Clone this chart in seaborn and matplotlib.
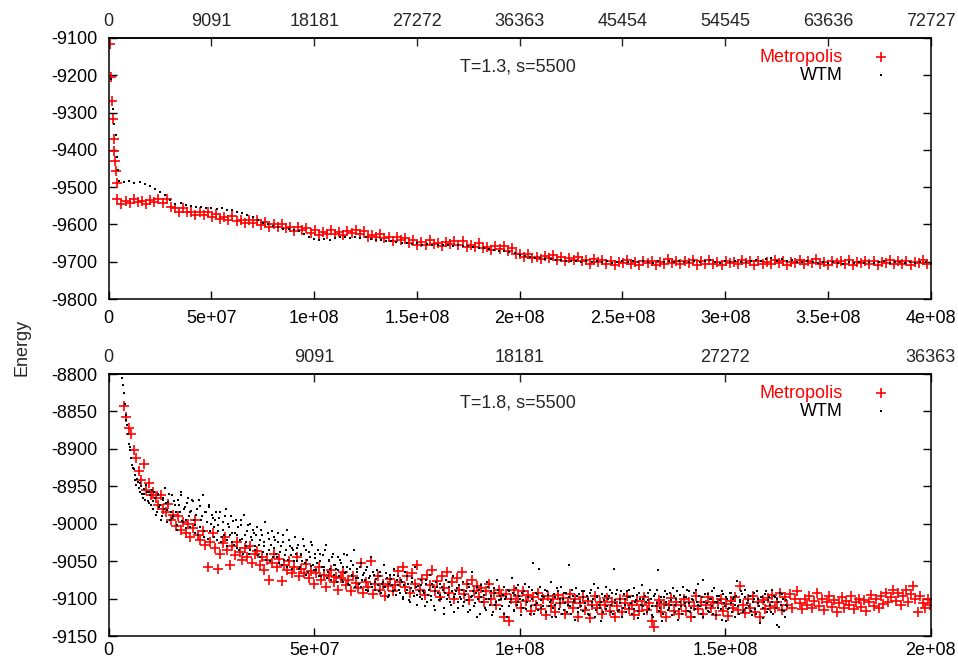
import matplotlib
matplotlib.use("Agg")
import matplotlib.pyplot as plt
import numpy as np
import pandas as pd
import seaborn as sns

# ── Data ──────────────────────────────────────────────────────────────────────
# top panel: T=1.3, s=5500
TOP_METRO_EARLY_X = [0.7e6, 1.0e6, 1.5e6, 2.0e6, 2.4e6, 2.8e6, 3.1e6, 3.4e6, 3.8e6]
TOP_METRO_EARLY_Y = [-9115, -9205, -9268, -9318, -9370, -9403, -9430, -9458, -9488]
TOP_METRO_X0, TOP_METRO_STEP = 4.2e6, 2.0e6
TOP_METRO_Y = [
    -9533, -9544, -9536, -9542, -9531, -9541, -9537, -9545, -9534, -9540, -9532, -9543, -9533,
    -9554, -9556, -9566, -9557, -9568, -9566, -9575, -9566, -9574, -9567, -9580, -9572,
    -9586, -9580, -9587, -9578, -9590, -9588, -9597, -9588, -9596, -9589, -9602, -9594,
    -9606, -9600, -9608, -9599, -9610, -9608, -9618, -9608, -9616, -9610, -9622, -9614,
    -9628, -9620, -9626, -9615, -9625, -9621, -9629, -9618, -9624, -9616, -9627, -9617,
    -9634, -9628, -9635, -9626, -9637, -9635, -9645, -9635, -9643, -9636, -9649, -9641,
    -9656, -9648, -9654, -9643, -9653, -9649, -9657, -9646, -9652, -9644, -9655, -9645,
    -9661, -9654, -9661, -9651, -9663, -9660, -9669, -9659, -9666, -9659, -9671, -9663,
    -9680, -9678, -9688, -9678, -9689, -9687, -9694, -9684, -9691, -9683, -9696, -9688,
    -9698, -9691, -9696, -9688, -9699, -9696, -9707, -9694, -9701,
    -9696, -9707, -9697, -9708, -9700, -9704, -9695, -9706, -9700, -9709, -9698, -9704,
    -9697, -9708, -9701, -9705, -9694, -9703, -9699, -9707, -9698, -9704, -9696, -9709,
    -9699, -9705, -9695, -9706, -9701, -9708, -9697, -9703, -9700, -9707, -9696, -9704,
    -9698, -9709, -9697, -9705, -9700, -9706, -9695, -9704, -9699, -9708, -9701, -9703,
    -9696, -9707, -9698, -9704, -9694, -9706, -9700, -9709, -9697, -9703, -9699, -9705,
    -9695, -9708, -9701, -9704, -9697, -9706, -9698, -9709, -9700, -9703, -9696, -9707,
    -9699, -9705, -9697, -9708, -9700, -9704, -9696, -9706,
]
TOP_WTM_EARLY_X = [1.2e6, 2.0e6, 2.7e6, 3.4e6, 3.9e6, 4.3e6]
TOP_WTM_EARLY_Y = [-9210, -9290, -9330, -9360, -9420, -9455]
TOP_WTM_X0, TOP_WTM_STEP = 5.0e6, 2.5e6
TOP_WTM_Y = [
    -9483, -9486, -9484, -9489, -9487, -9492, -9498, -9505, -9512, -9522,
    -9535, -9545, -9543, -9548, -9551, -9554, -9553, -9557, -9555, -9559,
    -9556, -9560, -9562, -9566, -9570, -9575, -9581, -9588, -9595, -9600,
    -9604, -9608, -9611, -9613, -9615, -9618, -9625, -9633, -9639, -9641,
    -9639, -9642, -9637, -9635, -9633, -9636, -9634, -9637, -9635, -9639,
    -9641, -9643, -9645, -9644, -9647, -9649, -9650, -9652, -9651, -9654,
    -9653, -9655, -9654, -9656, -9655, -9657, -9656, -9658, -9659, -9661,
    -9662, -9664, -9666, -9668, -9670, -9672, -9674, -9677, -9681, -9684,
    -9687, -9689, -9690, -9692, -9693, -9695, -9696, -9697, -9699, -9698,
    -9701,
    -9699, -9702, -9698, -9701, -9697, -9703, -9700, -9698, -9702, -9699,
    -9701, -9697, -9700, -9703, -9698, -9701, -9699, -9702, -9697, -9700,
    -9702, -9698, -9701, -9699, -9696, -9700, -9703, -9698, -9701, -9697,
    -9700, -9702, -9698, -9695, -9699, -9694, -9691, -9697, -9693, -9699,
    -9696, -9700, -9702, -9699, -9701, -9703, -9700, -9704, -9701, -9703,
    -9705, -9702, -9704, -9700, -9703, -9701, -9704, -9702, -9699, -9703,
    -9700, -9702, -9704, -9701, -9703, -9700, -9702, -9704,
]

# bottom panel: T=1.8, s=5500
BOT_METRO_X0, BOT_METRO_STEP = 3.7e6, 0.6e6
BOT_METRO_Y = [
    -8843, -8858, -8872, -8880, -8901, -8912, -8930, -8942, -8920, -8955,
    -8946, -8962, -8958, -8966, -8975, -8961, -8980, -8985, -8974, -8995,
    -8988, -9003, -8990, -9008, -8998, -9012, -9001, -9018, -9006, -8995,
    -9015, -9022, -9010, -9028, -9058, -9025, -9013, -9032, -9060, -9040,
    -9026, -9018, -9035, -9055, -9030, -9042, -9025, -9038, -9048, -9033,
    -9045, -9030, -9052, -9041, -9036, -9055, -9044, -9062, -9048, -9075,
    -9052, -9040, -9058, -9047, -9076, -9055, -9062, -9050, -9066, -9058,
    -9045, -9070, -9060, -9066, -9054, -9072, -9063, -9080, -9066, -9058,
    -9075, -9068, -9084, -9070, -9062, -9078, -9071, -9088, -9073, -9064,
    -9082, -9075, -9090, -9070, -9079, -9086, -9052, -9092, -9078, -9084,
    -9050, -9094, -9081, -9070, -9088, -9080, -9096, -9083, -9074, -9090,
    -9082, -9063, -9078, -9058, -9085, -9070, -9092, -9066, -9080, -9055,
    -9088, -9074, -9095, -9068, -9082, -9062, -9090, -9076, -9098, -9070,
    -9086, -9064, -9092, -9078, -9100, -9072, -9088, -9065, -9094, -9080,
    -9102, -9075, -9090, -9083, -9098, -9086, -9105, -9090, -9080, -9100,
    -9092, -9108, -9088, -9097, -9125, -9094, -9130, -9100, -9088, -9105,
    -9096, -9112, -9090, -9103, -9095, -9116, -9098, -9108, -9092, -9114,
    -9101, -9122, -9097, -9110, -9100, -9118, -9095, -9106, -9099, -9121,
    -9104, -9094, -9112, -9101, -9124, -9106, -9098, -9115, -9103, -9126,
    -9109, -9097, -9113, -9104, -9120, -9108, -9099, -9116, -9105, -9125,
    -9110, -9101, -9118, -9106, -9096, -9114, -9108, -9122, -9103, -9117,
    -9109, -9098, -9115, -9106, -9130, -9138, -9110, -9102, -9118, -9107,
    -9124, -9109, -9099, -9116, -9105, -9121, -9108, -9100, -9117, -9104,
    -9125, -9110, -9096, -9114, -9105, -9120, -9108, -9098, -9113, -9104,
    -9122, -9106, -9100, -9116, -9107, -9123, -9103, -9112, -9098, -9115,
    -9083, -9108, -9119, -9101, -9112, -9096, -9118, -9105, -9125, -9102,
    -9114, -9099, -9110, -9095, -9112, -9104, -9092, -9115, -9098, -9108,
    -9094, -9112, -9101, -9090, -9106, -9114, -9100, -9109, -9096, -9112,
    -9103, -9093, -9110, -9100, -9115, -9104, -9096, -9111, -9102, -9118,
    -9106, -9098, -9112, -9103, -9109, -9097, -9114, -9105, -9100, -9111,
    -9102, -9116, -9104, -9095, -9110, -9101, -9113, -9096, -9107, -9092,
    -9104, -9098, -9088, -9103, -9093, -9108, -9097, -9089, -9105, -9094,
    -9083, -9100, -9118, -9096, -9106, -9112, -9100, -9109,
]
# WTM was sampled twice as often; kept as two interleaved runs of readings
BOT_WTM_X0, BOT_WTM_STEP = 3.3e6, 0.4e6
BOT_WTM_Y = [
    -8806, -8826, -8855, -8868, -8893, -8902, -8921, -8927, -8942, -8940, -8952, -8946, -8960,
    -8953, -8968, -8957, -8972, -8962,
    -8955, -8980, -8966, -8985, -8960, -8975, -8990, -8968, -8952, -8982, -8971, -8995,
    -8962, -8990, -8975, -9002, -8968, -8985, -8958, -8998, -8978, -8995, -8965, -9005, -8983,
    -8970, -9002, -8988, -9015, -8976, -8995, -8962, -9010, -8985, -9020, -8978, -9000, -8992,
    -9018, -8985, -9010, -8992, -9025, -8998, -9015, -8980, -9022, -9005, -8990, -9012,
    -9028, -8995, -9015, -9035, -9002, -9020, -8988, -9030, -9010, -9040, -9000, -9022, -9013,
    -9035, -9005, -9028, -9045, -9015, -9030, -8998, -9040, -9020, -9050, -9010, -9032,
    -9022, -9045, -9012, -9038, -9055, -9025, -9042, -9008, -9048, -9030, -9060, -9035, -9018,
    -9050, -9028, -9058, -9040, -9020, -9052, -9035, -9065, -9045, -9025, -9055, -9040,
    -9062, -9035, -9050, -9070, -9042, -9058, -9028, -9065, -9048, -9075, -9040, -9055, -9060,
    -9045, -9070, -9052, -9078, -9040, -9064, -9058, -9082, -9050, -9068, -9035, -9072,
    -9060, -9080, -9052, -9075, -9066, -9088, -9058, -9072, -9045, -9085, -9068, -9078, -9062,
    -9090, -9065, -9080, -9055, -9085, -9072, -9095, -9068, -9082, -9060, -9088, -9075,
    -9070, -9092, -9078, -9100, -9065, -9088, -9080, -9105, -9072, -9090, -9058, -9095, -9083,
    -9098, -9075, -9090, -9110, -9080, -9095, -9068, -9102, -9085, -9115, -9078, -9092,
    -9080, -9100, -9088, -9120, -9075, -9095, -9085, -9108, -9070, -9098, -9090, -9112, -9082,
    -9100, -9078, -9105, -9090, -9118, -9085, -9098, -9065, -9110, -9092, -9125, -9088,
    -9082, -9105, -9095, -9115, -9078, -9100, -9090, -9122, -9086, -9108, -9075, -9102, -9096,
    -9110, -9085, -9100, -9125, -9090, -9105, -9072, -9115, -9095, -9108, -9082, -9100,
    -9092, -9112, -9080, -9105, -9098, -9120, -9088, -9052, -9108, -9094, -9115, -9085, -9102,
    -9110, -9088, -9118, -9095, -9105, -9078, -9112, -9098, -9125, -9090, -9106, -9084,
    -9100, -9115, -9092, -9108, -9055, -9120, -9096, -9104, -9086, -9118, -9094, -9110, -9098,
    -9090, -9112, -9100, -9122, -9088, -9105, -9080, -9115, -9097, -9108, -9130, -9094,
    -9102, -9085, -9110, -9096, -9118, -9092, -9060, -9106, -9088, -9115, -9100, -9124, -9094,
    -9108, -9090, -9112, -9098, -9120, -9086, -9104, -9095, -9116, -9100, -9082, -9110,
    -9096, -9118, -9102, -9088, -9110, -9125, -9094, -9106, -9062, -9112, -9098, -9120, -9090,
    -9104, -9115, -9092, -9108, -9086, -9118, -9100, -9128, -9095, -9110, -9084, -9106,
    -9098, -9116, -9090, -9112, -9102, -9125, -9088, -9108, -9096, -9120, -9075, -9104, -9112,
    -9094, -9118, -9100, -9110, -9086, -9122, -9104, -9096, -9114, -9090, -9106, -9130,
    -9100, -9112, -9092, -9118, -9098, -9108, -9076, -9120, -9102, -9094, -9115, -9088, -9106,
    -9110, -9096, -9122, -9100, -9114, -9090, -9106, -9132, -9098, -9112, -9094, -9118,
    -9102, -9108, -9088, -9120, -9098, -9135, -9104, -9092, -9115, -9100, -9125, -9108,
]
BOT_WTM_X0_B = 3.5e6
BOT_WTM_Y_B = [
    -8815, -8840, -8862, -8880, -8898, -8912, -8925, -8935, -8948, -8944, -8958, -8950, -8965,
    -8960, -8948, -8970, -8958, -8975,
    -8970, -8958, -8988, -8962, -8978, -8995, -8965, -8980, -8972, -8998, -8960, -8985,
    -8992, -8970, -8985, -9008, -8975, -8962, -8996, -8980, -9006, -8972, -8990, -8985, -8968,
    -8995, -9012, -8980, -8968, -9005, -8990, -9018, -8984, -8998, -8975, -9010, -8988, -9004,
    -8995, -9022, -9002, -8985, -9018, -9008, -8990, -9030, -9000, -9015, -9025, -8996,
    -9012, -9032, -9005, -9022, -8995, -9040, -9015, -9025, -9002, -9035, -9018, -9008, -9030,
    -9015, -9042, -9022, -9008, -9038, -9025, -9048, -9012, -9035, -9028, -9045, -9018,
    -9040, -9025, -9052, -9030, -9015, -9048, -9035, -9058, -9022, -9042, -9032, -9050, -9040,
    -9032, -9060, -9042, -9050, -9030, -9068, -9048, -9038, -9056, -9028, -9062, -9046,
    -9052, -9070, -9040, -9058, -9062, -9035, -9072, -9050, -9060, -9045, -9068, -9055, -9078,
    -9062, -9048, -9075, -9058, -9066, -9042, -9080, -9060, -9070, -9055, -9085, -9064,
    -9072, -9058, -9085, -9068, -9075, -9062, -9090, -9070, -9080, -9065, -9088, -9074, -9082,
    -9070, -9092, -9078, -9085, -9066, -9098, -9080, -9074, -9090, -9068, -9095, -9082,
    -9088, -9075, -9098, -9082, -9092, -9070, -9102, -9086, -9078, -9096, -9084, -9108, -9090,
    -9082, -9100, -9092, -9075, -9105, -9088, -9096, -9080, -9110, -9090, -9085, -9102,
    -9095, -9085, -9112, -9092, -9100, -9078, -9105, -9090, -9118, -9094, -9086, -9104, -9098,
    -9088, -9110, -9095, -9102, -9080, -9115, -9096, -9090, -9106, -9085, -9100, -9120,
    -9098, -9090, -9112, -9100, -9085, -9108, -9096, -9118, -9092, -9104, -9088, -9114, -9100,
    -9095, -9120, -9098, -9088, -9110, -9100, -9092, -9116, -9086, -9104, -9096, -9122,
    -9102, -9090, -9114, -9098, -9085, -9110, -9100, -9120, -9092, -9106, -9060, -9112, -9096,
    -9098, -9118, -9090, -9110, -9102, -9124, -9094, -9108, -9086, -9114, -9100, -9120,
    -9092, -9106, -9118, -9098, -9110, -9088, -9102, -9128, -9096, -9112, -9104, -9090, -9116,
    -9106, -9096, -9120, -9092, -9110, -9100, -9124, -9098, -9086, -9112, -9104, -9118,
    -9096, -9114, -9100, -9088, -9108, -9120, -9102, -9094, -9116, -9106, -9090, -9112, -9100,
    -9118, -9098, -9088, -9106, -9096, -9114, -9102, -9126, -9092, -9108, -9100, -9120,
    -9104, -9092, -9114, -9100, -9122, -9096, -9110, -9088, -9116, -9104, -9130, -9098, -9108,
    -9094, -9112, -9102, -9122, -9096, -9108, -9090, -9114, -9104, -9120, -9098, -9110,
    -9088, -9106, -9118, -9100, -9092, -9114, -9104, -9080, -9110, -9098, -9124, -9094, -9106,
    -9116, -9100, -9090, -9120, -9104, -9096, -9112, -9102, -9128, -9094, -9110, -9098,
    -9114, -9092, -9106, -9100, -9124, -9096, -9110, -9104, -9090, -9118, -9098, -9112, -9102,
    -9096, -9116, -9104, -9092, -9120, -9100, -9110, -9098, -9126, -9104, -9090, -9114,
    -9098, -9118, -9104, -9096, -9112, -9100, -9138, -9108, -9094, -9116, -9102, -9110,
]

# axes
TOP_XTICKS = [0, 5e7, 1e8, 1.5e8, 2e8, 2.5e8, 3e8, 3.5e8, 4e8]
TOP_XLABELS = ["0", "5e+07", "1e+08", "1.5e+08", "2e+08", "2.5e+08", "3e+08", "3.5e+08", "4e+08"]
TOP_X2LABELS = ["0", "9091", "18181", "27272", "36363", "45454", "54545", "63636", "72727"]
TOP_YTICKS = [-9800, -9700, -9600, -9500, -9400, -9300, -9200, -9100]
BOT_XTICKS = [0, 5e7, 1e8, 1.5e8, 2e8]
BOT_XLABELS = ["0", "5e+07", "1e+08", "1.5e+08", "2e+08"]
BOT_X2LABELS = ["0", "9091", "18181", "27272", "36363"]
BOT_YTICKS = [-9150, -9100, -9050, -9000, -8950, -8900, -8850, -8800]


def series(ys, x0, step, early_x=(), early_y=()):
    x = list(early_x) + list(x0 + step * np.arange(len(ys)))
    return pd.DataFrame({"step": x, "energy": list(early_y) + list(ys)})


top_metro = series(TOP_METRO_Y, TOP_METRO_X0, TOP_METRO_STEP, TOP_METRO_EARLY_X, TOP_METRO_EARLY_Y)
top_wtm = series(TOP_WTM_Y, TOP_WTM_X0, TOP_WTM_STEP, TOP_WTM_EARLY_X, TOP_WTM_EARLY_Y)
bot_metro = series(BOT_METRO_Y, BOT_METRO_X0, BOT_METRO_STEP)
bot_wtm = pd.concat([series(BOT_WTM_Y, BOT_WTM_X0, BOT_WTM_STEP),
                     series(BOT_WTM_Y_B, BOT_WTM_X0_B, BOT_WTM_STEP)], ignore_index=True)

# ── Style ─────────────────────────────────────────────────────────────────────
sns.set_style("white")
plt.rcParams["font.family"] = ["Liberation Sans", "DejaVu Sans"]
plt.rcParams["axes.unicode_minus"] = False
plt.rcParams["axes.edgecolor"] = "black"
plt.rcParams["axes.linewidth"] = 1.1
FS = 13


def panel(ax, metro, wtm, xmax, xticks, xlabels, x2labels, yticks, note, xpad):
    sns.scatterplot(data=metro, x="step", y="energy", marker="+", color="red",
                    s=60, linewidth=1.2, label="Metropolis", ax=ax)
    sns.scatterplot(data=wtm, x="step", y="energy", marker="s", color="black",
                    s=3, linewidth=0, label="WTM", ax=ax)
    ax.set_xlim(0, xmax)
    ax.set_ylim(yticks[0], yticks[-1])
    ax.set_xticks(xticks, labels=xlabels)
    ax.set_yticks(yticks, labels=[str(v) for v in yticks])
    ax.set_xlabel("")
    ax.set_ylabel("")
    ax.tick_params(axis="x", direction="in", length=6, width=1, pad=xpad,
                   labelsize=FS, top=False, bottom=True, colors="black")
    ax.tick_params(axis="y", direction="in", length=6, width=1, pad=8,
                   labelsize=FS, left=True, right=True, colors="black")
    sec = ax.secondary_xaxis("top")
    sec.set_xticks(xticks, labels=x2labels)
    sec.tick_params(direction="in", length=6, width=1, pad=5.5, labelsize=FS)
    sec.spines["top"].set_linewidth(1.1)
    ax.text(0.498, 0.889, note, transform=ax.transAxes, ha="center", va="center", fontsize=FS)
    ax.legend(loc="upper right", bbox_to_anchor=(0.962, 0.958), frameon=False,
              markerfirst=False, fontsize=FS, handlelength=2.0, handletextpad=1.15,
              labelspacing=0.05, borderpad=0, borderaxespad=0,
              labelcolor=["red", "black"])


fig = plt.figure(figsize=(9.58, 6.63), dpi=100)
ax_top = fig.add_axes([108.7 / 958, 1 - 299 / 663, 822 / 958, 261 / 663])
ax_bot = fig.add_axes([108.7 / 958, 1 - 636 / 663, 822 / 958, 262 / 663])

panel(ax_top, top_metro, top_wtm, 4e8, TOP_XTICKS, TOP_XLABELS, TOP_X2LABELS,
      TOP_YTICKS, "T=1.3, s=5500", 8)
panel(ax_bot, bot_metro, bot_wtm, 2e8, BOT_XTICKS, BOT_XLABELS, BOT_X2LABELS,
      BOT_YTICKS, "T=1.8, s=5500", 4)

fig.text(21.5 / 958, 1 - 347.5 / 663, "Energy", rotation=90, ha="center", va="center", fontsize=FS)

fig.savefig("out.png", dpi=100)
